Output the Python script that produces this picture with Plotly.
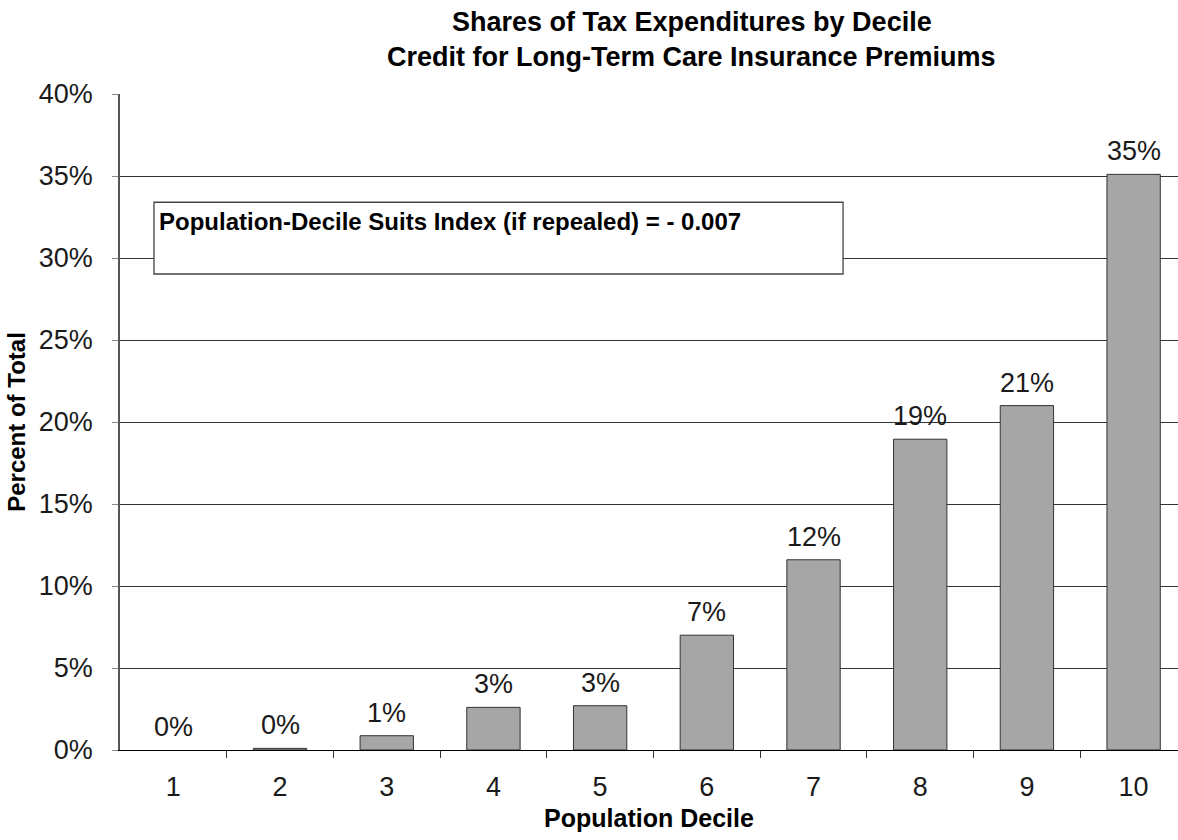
import plotly.graph_objects as go

# Share of the credit's tax expenditure going to each population decile (%)
deciles = ["1", "2", "3", "4", "5", "6", "7", "8", "9", "10"]
shares = [0.0, 0.1, 0.87, 2.6, 2.7, 7.0, 11.6, 18.95, 21.0, 35.1]
y_ticks = [0, 5, 10, 15, 20, 25, 30, 35, 40]
y_tick_text = [f"{v}%" for v in y_ticks]

title_lines = ["Shares of Tax Expenditures by Decile",
               "Credit for Long-Term Care Insurance Premiums"]
suits_note = "Population-Decile Suits Index (if repealed) = - 0.007"

FONT = "Liberation Sans, Arial, sans-serif"
TXT = "#1a1a1a"
TICK_SIZE = 27

fig = go.Figure()
fig.add_trace(go.Bar(
    x=list(range(len(deciles))),
    y=shares,
    width=0.5,
    marker=dict(color="#a6a6a6",
                line=dict(color="#333333",
                          width=[0 if v == 0 else 1 for v in shares])),
    hoverinfo="skip",
))

# value labels above each bar
for i, v in enumerate(shares):
    fig.add_annotation(
        x=i, y=v, xref="x", yref="y",
        text=f"{v:.0f}%", showarrow=False,
        yanchor="bottom", yshift=6,
        font=dict(family=FONT, size=TICK_SIZE, color=TXT),
    )

# two-line bold title
for i, line in enumerate(title_lines):
    fig.add_annotation(
        x=0.5406, y=1.1098 - 0.0534 * i, xref="paper", yref="paper",
        xanchor="center", yanchor="middle",
        text=f"<b>{line}</b>", showarrow=False,
        font=dict(family=FONT, size=27, color="#000000"),
    )

# boxed note with the Suits index
fig.add_shape(
    type="rect", xref="paper", yref="paper",
    x0=0.0321, x1=0.6834, y0=0.7256, y1=0.835,
    line=dict(color="#444444", width=1.3), fillcolor="white", layer="above",
)
fig.add_annotation(
    x=0.0345, y=0.830, xref="paper", yref="paper",
    xanchor="left", yanchor="top",
    text=f"<b>{suits_note}</b>", showarrow=False,
    font=dict(family=FONT, size=24, color="#000000"),
)

fig.update_layout(
    width=1178, height=840,
    margin=dict(l=120, r=0, t=94, b=90),
    paper_bgcolor="white", plot_bgcolor="white",
    showlegend=False,
    font=dict(family=FONT, size=TICK_SIZE, color=TXT),
)

fig.update_xaxes(
    range=[-0.5, 9.416],
    tickvals=list(range(len(deciles))), ticktext=deciles,
    ticks="", showgrid=False, zeroline=False,
    showline=True, linecolor="#000000", linewidth=1.3,
    ticklabelstandoff=12,
    tickfont=dict(family=FONT, size=TICK_SIZE, color=TXT),
    title=dict(text="<b>Population Decile</b>", standoff=8,
               font=dict(family=FONT, size=25, color="#000000")),
)
# tick marks sit on the boundaries between deciles
fig.update_layout(xaxis2=dict(
    overlaying="x", matches="x", anchor="y",
    tickvals=[i + 0.5 for i in range(len(deciles))],
    ticktext=[""] * len(deciles),
    ticks="outside", ticklen=7, tickcolor="#333333", tickwidth=1,
    showgrid=False, zeroline=False, showline=False, side="bottom",
))
fig.add_trace(go.Scatter(x=[], y=[], xaxis="x2", showlegend=False))

fig.update_yaxes(
    range=[0, 40],
    tickvals=y_ticks, ticktext=y_tick_text,
    ticks="outside", ticklen=6, tickcolor="#888888",
    showline=True, linecolor="#555555", linewidth=1.6,
    showgrid=True, gridcolor="#333333", gridwidth=1,
    zeroline=False,
    ticklabelstandoff=14,
    tickfont=dict(family=FONT, size=TICK_SIZE, color=TXT),
    title=dict(text="<b>Percent of Total</b>", standoff=6,
               font=dict(family=FONT, size=24, color="#000000")),
)

fig.write_html("out.html")
